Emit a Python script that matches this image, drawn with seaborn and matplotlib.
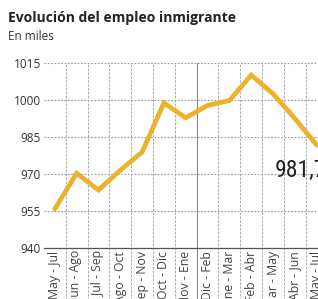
import numpy as np
import seaborn as sns
import matplotlib.pyplot as plt
from matplotlib import font_manager

periodos = ["May - Jul", "Jun - Ago", "Jul - Sep", "Ago - Oct", "Sep - Nov",
            "Oct - Dic", "Nov - Ene", "Dic - Feb", "Ene - Mar", "Feb - Abr",
            "Mar - May", "Abr - Jun", "May - Jul"]
empleo = [955.8, 970.3, 963.5, 971.5, 978.9, 998.8, 992.8,
          997.8, 999.8, 1010.1, 1002.5, 992.5, 981.7]
yticks = [940, 955, 970, 985, 1000, 1015]

sns.set_style("white")
plt.rcParams['font.family'] = ['Open Sans', 'DejaVu Sans']

# fuente estrecha para la cifra final, si la hay
nombres = {f.name for f in font_manager.fontManager.ttflist}
estrecha = "DejaVu Sans"
for n in ["Liberation Sans Narrow", "DejaVu Sans Condensed", "Roboto Condensed",
          "Open Sans Condensed"]:
    if n in nombres:
        estrecha = n
        break

fig = plt.figure(figsize=(3.18, 2.99), dpi=100)
ax = fig.add_axes([0.138, 0.1706, 0.862, 0.6187])

pos = np.arange(len(periodos))
sns.lineplot(x=pos, y=empleo, ax=ax, color="#EBB22C", linewidth=3.4,
             solid_joinstyle="miter")

ax.set_xlim(-0.5, 12.06)
ax.set_ylim(940, 1015)
ax.set_yticks(yticks)
ax.set_yticklabels([str(v) for v in yticks], fontsize=8.5, color="#333333")
ax.set_xticks(pos)
ax.set_xticklabels(periodos, rotation=90, fontsize=8.8, color="#444444",
                   va="top", ha="center")
ax.tick_params(length=0, pad=2)

# rejilla
for v in yticks[1:]:
    ax.axhline(v, color="#999999", lw=0.8, ls=(0, (1.5, 1.5)), zorder=0)
for k in range(len(periodos)):
    x = k + 0.5
    if k == 6:
        ax.axvline(x, ymin=-0.3, ymax=1, color="#888888", lw=0.8,
                   clip_on=False, zorder=0)
    else:
        ax.axvline(x, ymin=-0.3, ymax=1, color="#AAAAAA", lw=0.7,
                   ls=(0, (2.5, 1.5)), clip_on=False, zorder=0)

for s in ["top", "right", "left"]:
    ax.spines[s].set_visible(False)
ax.spines["bottom"].set_color("#555555")
ax.spines["bottom"].set_linewidth(0.9)

ax.text(10.1, 968.8, "981,7", fontsize=17 if estrecha != "DejaVu Sans" else 13,
        color="#222222", family=[estrecha, "DejaVu Sans"],
        fontstretch="condensed", ha="left", va="baseline", clip_on=False)

fig.text(0.025, 0.927, "Evolución del empleo inmigrante", fontsize=10,
         fontweight="bold", color="#222222", va="baseline")
fig.text(0.025, 0.866, "En miles", fontsize=8.5, color="#333333",
         va="baseline")

fig.savefig("out.png", dpi=100)
